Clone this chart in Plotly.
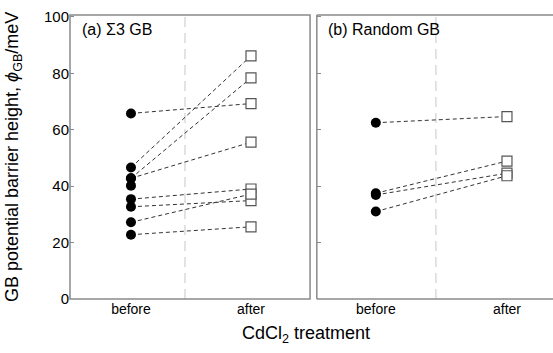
import plotly.graph_objects as go

# Data
stages = ["before", "after"]
sigma3_before = [65.8, 46.6, 42.8, 42.8, 35.4, 32.7, 27.2, 22.8]
sigma3_after = [69.3, 86.2, 78.4, 55.6, 39.0, 34.9, 37.2, 25.6]
sigma3_before_extra = [40.2]
random_before = [62.5, 37.5, 36.9, 31.0]
random_after = [64.7, 48.9, 44.6, 43.7]
y_ticks = [0, 20, 40, 60, 80, 100]

FONT = "Liberation Sans, Arial, sans-serif"
BORDER = "#8a8a8a"
fig = go.Figure()

def add_panel(before, after, extra, xa, ya):
    for b, a in zip(before, after):
        fig.add_trace(go.Scatter(x=[0, 1], y=[b, a], mode="lines",
                                 line=dict(color="#333333", width=1, dash="4px,3px"),
                                 xaxis=xa, yaxis=ya, showlegend=False, hoverinfo="skip"))
    fig.add_trace(go.Scatter(x=[0] * (len(before) + len(extra)), y=list(before) + list(extra),
                             mode="markers", marker=dict(color="black", size=10, symbol="circle"),
                             xaxis=xa, yaxis=ya, showlegend=False))
    fig.add_trace(go.Scatter(x=[1] * len(after), y=after, mode="markers",
                             marker=dict(color="white", size=10, symbol="square",
                                         line=dict(color="#555555", width=1.2)),
                             xaxis=xa, yaxis=ya, showlegend=False))

add_panel(sigma3_before, sigma3_after, sigma3_before_extra, "x", "y")
add_panel(random_before, random_after, [], "x2", "y2")

axis_common = dict(showline=False, showgrid=False, zeroline=False, automargin=False)
yr = [0, 100.7]

def seg(xref, yref, x0, y0, x1, y1):
    return dict(type="line", xref=xref, yref=yref, x0=x0, y0=y0, x1=x1, y1=y1,
                line=dict(color=BORDER, width=1.5), layer="above")

shapes = [
    dict(type="line", xref="x", yref="y", x0=0.45, x1=0.45, y0=0, y1=100.7,
         line=dict(color="#d0d0d0", width=1.2, dash="10px,6px"), layer="below"),
    dict(type="line", xref="x2", yref="y2", x0=0.458, x1=0.458, y0=0, y1=100.7,
         line=dict(color="#d0d0d0", width=1.2, dash="10px,6px"), layer="below"),
    dict(type="rect", xref="x domain", yref="y domain", x0=0, y0=0, x1=1, y1=1,
         line=dict(color=BORDER, width=1.5), layer="above"),
    seg("x2 domain", "y2 domain", 0, 0, 1.05, 0),
    seg("x2 domain", "y2 domain", 0, 1, 1.05, 1),
    seg("x2 domain", "y2 domain", 0, 0, 0, 1),
]

fig.update_layout(
    width=553, height=353,
    margin=dict(l=70, r=0, t=15, b=54),
    paper_bgcolor="white", plot_bgcolor="white",
    font=dict(family=FONT, color="black"),
    xaxis=dict(domain=[0, 0.497], range=[-0.508, 1.492], tickvals=[0, 1], ticktext=stages,
               ticks="", tickfont=dict(size=14), **axis_common),
    yaxis=dict(range=yr, tickvals=y_ticks, ticks="inside", ticklen=4, tickcolor=BORDER,
               tickfont=dict(size=15), **axis_common),
    xaxis2=dict(domain=[0.511, 1.0], range=[-0.45, 1.351], tickvals=[0, 1], ticktext=stages,
                ticks="", tickfont=dict(size=14), anchor="y2", **axis_common),
    yaxis2=dict(range=yr, tickvals=y_ticks, ticks="inside", ticklen=4, tickcolor=BORDER,
                showticklabels=False, anchor="x2", **axis_common),
    shapes=shapes,
    annotations=[
        dict(text="(a) Σ3 GB", xref="x domain", yref="y domain", x=0.04, y=0.95,
             xanchor="left", yanchor="middle", showarrow=False, font=dict(size=16)),
        dict(text="(b) Random GB", xref="x2 domain", yref="y2 domain", x=0.04, y=0.95,
             xanchor="left", yanchor="middle", showarrow=False, font=dict(size=16)),
        dict(text="GB potential barrier height, <i>ϕ</i><sub>GB</sub>/meV", textangle=-90,
             xref="paper", yref="paper", x=-0.118, y=0.5, xanchor="center", yanchor="middle",
             showarrow=False, font=dict(size=18)),
        dict(text="CdCl<sub>2</sub> treatment", xref="paper", yref="paper",
             x=(306 - 70) / 483, y=-0.125, xanchor="center", yanchor="middle",
             showarrow=False, font=dict(size=18)),
    ],
)

fig.write_html("out.html", config={"displayModeBar": False},
               post_script="document.body.style.margin='0';document.body.style.overflow='hidden';")
